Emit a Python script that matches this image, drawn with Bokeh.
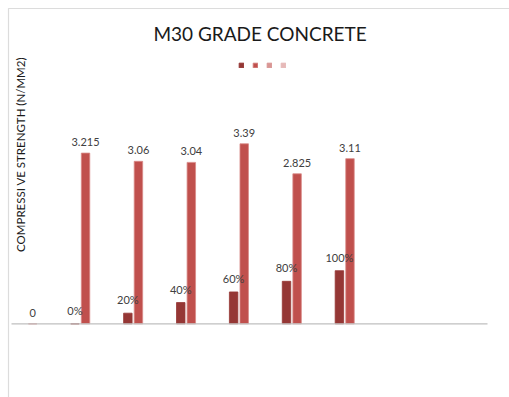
import numpy as np
from bokeh.plotting import figure
from bokeh.models import (ColumnDataSource, Range1d, Label, BoxAnnotation, Legend, LegendItem)
from bokeh.core.properties import value
from bokeh.embed import file_html
from bokeh.resources import INLINE

# ---------------- data ----------------
categories = ["1", "2", "3", "4", "5", "6", "7", "8", "9"]
replacement = [np.nan, 0.0, 0.2, 0.4, 0.6, 0.8, 1.0, np.nan, np.nan]   # dark series (shown as %)
strength = [0.0, 3.215, 3.06, 3.04, 3.39, 2.825, 3.11, np.nan, np.nan]  # red series
series3 = [np.nan] * 9
series4 = [np.nan] * 9
title_text = "M30 GRADE  CONCRETE"
ylabel_text = "COMPRESSI VE STRENGTH (N/MM2)"

colors = ["#953735", "#c0504d", "#d99694", "#e6b9b8"]
FONT = "Lato"

# ------------- pixel mapping helpers (canvas 509x397) -------------
W, H = 509, 397
x0_px, cat_px = 11.0, 476.0 / 9     # plot area left, width per category
y0_px, unit_px = 323.3, 53.1        # baseline, px per unit

def xd(px):
    return (px - x0_px) / cat_px

def yd(py):
    return (y0_px - py) / unit_px

p = figure(width=W, height=H, output_backend="svg", toolbar_location=None,
           x_axis_type=None, y_axis_type=None, min_border=0,
           x_range=Range1d(xd(0), xd(W)), y_range=Range1d(yd(H), yd(0)))
p.outline_line_color = None
p.grid.visible = False
p.background_fill_color = "white"

n = len(categories)
centers = np.arange(n) + 0.5
offsets = [-0.3, -0.1, 0.1, 0.3]
bw = 0.16

all_series = [replacement, strength, series3, series4]
renderers = []
for k, vals in enumerate(all_series):
    v = np.array(vals, dtype=float)
    src = ColumnDataSource(dict(x=centers + offsets[k], top=v))
    r = p.vbar(x="x", top="top", bottom=0, width=bw, source=src,
               fill_color=colors[k],
               line_color="#d98a88" if k == 1 else colors[k], line_width=0.8)
    renderers.append(r)

# axis (category) line
p.segment(x0=[0], y0=[0], x1=[n], y1=[0], line_color="#bfbfbf", line_width=1.2)

# data labels
def add_labels(vals, k, fmt):
    v = np.array(vals, dtype=float)
    m = ~np.isnan(v)
    src = ColumnDataSource(dict(x=(centers + offsets[k])[m], y=v[m],
                                t=[fmt(a) for a in v[m]]))
    p.text(x="x", y="y", text="t", source=src, text_align="center",
           text_baseline="bottom", y_offset=-7, text_font=value(FONT),
           text_font_size="11px", text_color="#404040")

add_labels(replacement, 0, lambda a: f"{a:.0%}")
add_labels(strength, 1, lambda a: f"{a:g}")

# chart frame (top and left border)
p.add_layout(BoxAnnotation(left=xd(8), right=xd(W + 20), top=yd(8), bottom=yd(H + 20),
                           fill_alpha=0, line_color="#8c8c8c", line_width=1.2))

# title and y label
p.add_layout(Label(x=xd(262), y=yd(33), text=title_text, text_align="center",
                   text_baseline="middle", text_font=FONT, text_font_size="19px",
                   text_color="#1a1a1a"))
p.add_layout(Label(x=xd(20), y=yd(154), text=ylabel_text, angle=np.pi / 2,
                   text_align="center", text_baseline="middle", text_font=FONT,
                   text_font_size="11.5px", text_color="#1a1a1a"))

# legend (markers only)
items = [LegendItem(label=" ", renderers=[r]) for r in renderers]
leg = Legend(items=items, orientation="horizontal", location=(238, H - 68),
             glyph_width=6, glyph_height=6, label_width=0, label_height=6,
             label_standoff=0, spacing=8, padding=0, margin=0,
             label_text_font_size="1px", border_line_color=None,
             background_fill_alpha=0)
p.add_layout(leg, "center")

open("out.html", "w").write(file_html(p, INLINE))
